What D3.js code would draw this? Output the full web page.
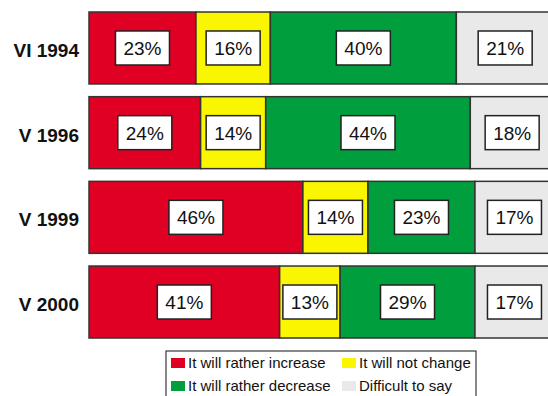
<!DOCTYPE html>
<html>
<head>
<meta charset="utf-8">
<script src="https://cdn.jsdelivr.net/npm/d3@7"></script>
<style>
  html, body { margin: 0; padding: 0; background: #fff; }
  svg { display: block; font-family: "Liberation Sans", Arial, sans-serif; }
</style>
</head>
<body>
<svg id="chart" width="548" height="396"></svg>
<script>
// Survey waves (rows) and answer shares in percent
const waves = ["VI 1994", "V 1996", "V 1999", "V 2000"];
const answers = ["It will rather increase", "It will not change", "It will rather decrease", "Difficult to say"];
const increase = [23, 24, 46, 41];
const noChange = [16, 14, 14, 13];
const decrease = [40, 44, 23, 29];
const difficult = [21, 18, 17, 17];
const colors = ["#E00024", "#FAF500", "#009E3D", "#E9E9E9"];

const seriesValues = [increase, noChange, decrease, difficult];
const rows = waves.map((w, i) => {
  const r = { wave: w };
  answers.forEach((a, j) => { r[a] = seriesValues[j][i]; });
  return r;
});

const stacked = d3.stack().keys(answers)(rows);

const svg = d3.select("#chart");
const x = d3.scaleLinear().domain([0, 100]).range([89, 554]);
const y = d3.scaleBand().domain(waves).range([12, 338]).paddingInner(0.15);
const color = d3.scaleOrdinal().domain(answers).range(colors);

// Stacked bar segments
const layers = svg.append("g").selectAll("g")
  .data(stacked).join("g")
  .attr("fill", d => color(d.key));

layers.selectAll("rect")
  .data(d => d.map(p => ({ key: d.key, p })))
  .join("rect")
  .attr("x", d => x(d.p[0]))
  .attr("y", d => y(d.p.data.wave))
  .attr("width", d => x(d.p[1]) - x(d.p[0]))
  .attr("height", y.bandwidth())
  .attr("stroke", "#333")
  .attr("stroke-width", 1.5);

// Value labels in white boxes
const boxW = 54, boxH = 34;
const labels = svg.append("g").selectAll("g")
  .data(stacked.flatMap(s => s.map(p => ({ key: s.key, p }))))
  .join("g")
  .attr("transform", d => {
    const cx = (x(d.p[0]) + x(d.p[1])) / 2;
    const cy = y(d.p.data.wave) + y.bandwidth() / 2;
    return `translate(${cx},${cy})`;
  });

labels.append("rect")
  .attr("x", -boxW / 2).attr("y", -boxH / 2)
  .attr("width", boxW).attr("height", boxH)
  .attr("fill", "#fff").attr("stroke", "#222").attr("stroke-width", 1.5);

labels.append("text")
  .attr("text-anchor", "middle")
  .attr("dy", "0.36em")
  .attr("font-size", 19)
  .attr("fill", "#111")
  .text(d => (d.p[1] - d.p[0]) + "%");

// Category axis labels
const yAxis = d3.axisLeft(y).tickSize(0).tickPadding(0);
const ax = svg.append("g").attr("transform", "translate(79,3)").call(yAxis);
ax.select(".domain").remove();
ax.selectAll("text")
  .attr("font-size", 19)
  .attr("font-weight", "bold")
  .attr("font-family", "'Liberation Sans', Arial, sans-serif")
  .attr("fill", "#111");

// Legend
const legend = svg.append("g");
legend.append("rect")
  .attr("x", 166).attr("y", 351).attr("width", 310).attr("height", 60)
  .attr("fill", "#fff").attr("stroke", "#111").attr("stroke-width", 1);

const legPos = [[171, 358], [342, 358], [171, 381], [342, 381]];
const items = legend.selectAll("g.item")
  .data(answers).join("g").attr("class", "item")
  .attr("transform", (d, i) => `translate(${legPos[i][0]},${legPos[i][1]})`);
items.append("rect")
  .attr("width", 14).attr("height", 10)
  .attr("fill", d => color(d));
items.append("text")
  .attr("x", 17).attr("y", 5).attr("dy", "0.36em")
  .attr("font-size", 15).attr("fill", "#111")
  .text(d => d);
</script>
</body>
</html>
